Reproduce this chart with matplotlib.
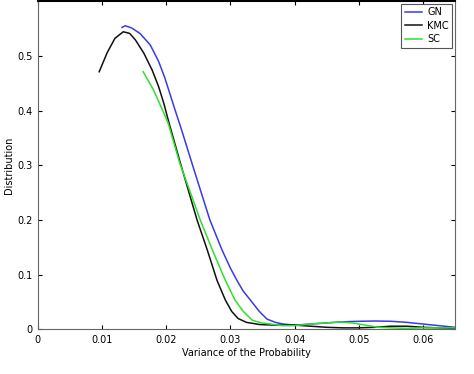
import matplotlib
matplotlib.use("Agg")
import matplotlib.pyplot as plt
import numpy as np

# curves
gn_x = [0.0131, 0.0136, 0.0146, 0.0159, 0.0175, 0.0188, 0.0198, 0.0214, 0.0223, 0.0240,
        0.0258, 0.0268, 0.0287, 0.0300, 0.0310, 0.0320, 0.0331, 0.0345, 0.0357, 0.0370, 0.0382,
        0.0400, 0.0425, 0.0450, 0.0475, 0.0500, 0.0525, 0.0550, 0.0575, 0.0600, 0.0625, 0.0650]
gn_y = [0.552, 0.555, 0.551, 0.541, 0.520, 0.490, 0.459, 0.400, 0.368, 0.304,
        0.237, 0.200, 0.145, 0.112, 0.090, 0.070, 0.054, 0.033, 0.019, 0.013, 0.010,
        0.008, 0.010, 0.012, 0.014, 0.015, 0.0155, 0.015, 0.013, 0.010, 0.007, 0.004]

kmc_x = [0.00955, 0.0108, 0.0120, 0.0133, 0.0143, 0.0152, 0.0165, 0.0178, 0.0188, 0.0196, 0.0203,
         0.0222, 0.0248, 0.0264, 0.0279, 0.0292, 0.0302, 0.0312, 0.0325, 0.0346, 0.0370, 0.0400,
         0.0425, 0.0450, 0.0475, 0.0500, 0.0525, 0.0550, 0.0575, 0.0600, 0.0625, 0.0650]
kmc_y = [0.471, 0.506, 0.532, 0.544, 0.541, 0.529, 0.505, 0.474, 0.444, 0.414, 0.383,
         0.304, 0.200, 0.145, 0.090, 0.054, 0.033, 0.020, 0.013, 0.009, 0.008, 0.008,
         0.006, 0.004, 0.003, 0.003, 0.004, 0.006, 0.006, 0.004, 0.003, 0.002]

sc_x = [0.0164, 0.0180, 0.0193, 0.0203, 0.0221, 0.0253, 0.0272, 0.0292, 0.0307, 0.0320, 0.0334,
        0.0348, 0.0362, 0.0380, 0.0400, 0.0425, 0.0450, 0.0470, 0.0490, 0.0510, 0.0530, 0.0550,
        0.0575, 0.0600, 0.0625, 0.0650]
sc_y = [0.471, 0.438, 0.404, 0.377, 0.304, 0.200, 0.145, 0.090, 0.054, 0.033, 0.017,
        0.012, 0.010, 0.007, 0.007, 0.010, 0.012, 0.0137, 0.012, 0.008, 0.004, 0.003,
        0.002, 0.003, 0.003, 0.003]

labels = ["GN", "KMC", "SC"]
colors = ["#3a3ae8", "#111111", "#2ee02e"]

fig = plt.figure(figsize=(4.74, 3.74), dpi=100)
ax = fig.add_axes([0.080, 0.119, 0.880, 0.878])

for (x, y), lab, c in zip([(gn_x, gn_y), (kmc_x, kmc_y), (sc_x, sc_y)], labels, colors):
    ax.plot(x, y, color=c, linewidth=1.1, label=lab)

ax.set_xlim(0, 0.065)
ax.set_ylim(0, 0.6)
ax.set_xticks([0, 0.01, 0.02, 0.03, 0.04, 0.05, 0.06])
ax.set_xticklabels(["0", "0.01", "0.02", "0.03", "0.04", "0.05", "0.06"])
ax.set_yticks([0, 0.1, 0.2, 0.3, 0.4, 0.5])
ax.set_yticklabels(["0", "0.1", "0.2", "0.3", "0.4", "0.5"])
ax.tick_params(direction="in", top=True, right=True, labelsize=7, length=3, pad=4)

for s in ["left", "bottom", "right"]:
    ax.spines[s].set_color("#666666")
ax.spines["top"].set_color("black")
ax.spines["top"].set_linewidth(1.5)

ax.set_xlabel("Variance of the Probability", fontsize=7, labelpad=2)
ax.set_ylabel("Distribution", fontsize=7, labelpad=2)

leg = ax.legend(loc="upper right", fontsize=7, fancybox=False, framealpha=1,
                borderaxespad=0.3, handlelength=1.8, handletextpad=0.5,
                labelspacing=0.35, borderpad=0.35)
leg.get_frame().set_edgecolor("#555555")
leg.get_frame().set_linewidth(0.8)

fig.savefig("out.png", dpi=100)
